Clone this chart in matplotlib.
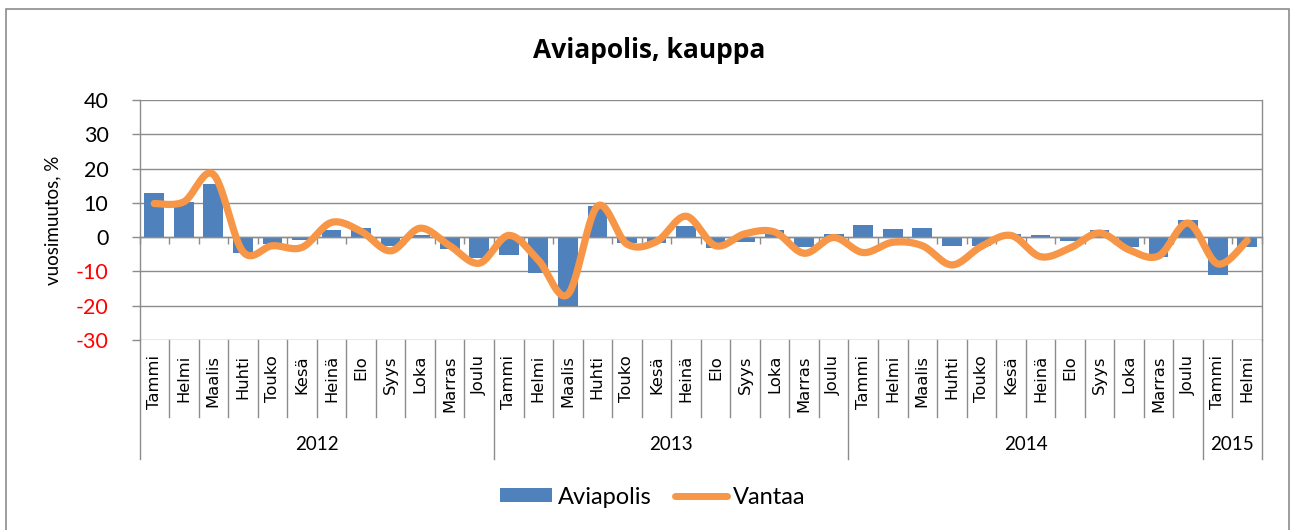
import numpy as np
import matplotlib
matplotlib.use("Agg")
import matplotlib.pyplot as plt
from matplotlib.patches import Patch, Rectangle
from matplotlib.lines import Line2D
from matplotlib import transforms

# ---------------- data ----------------
months = ["Tammi", "Helmi", "Maalis", "Huhti", "Touko", "Kesä",
          "Heinä", "Elo", "Syys", "Loka", "Marras", "Joulu"]
month_labels = months * 3 + ["Tammi", "Helmi"]
years = ["2012", "2013", "2014", "2015"]
year_counts = [12, 12, 12, 2]

aviapolis = [13.0, 10.2, 15.4, -4.7, -2.0, -0.8, 2.2, 2.8, -2.5, 0.7, -3.5, -6.2,
             -5.2, -10.4, -20.2, 9.2, -1.8, -1.6, 3.3, -3.2, -1.5, 2.0, -3.0, 0.9,
             3.6, 2.4, 2.6, -2.5, -2.5, 1.0, 0.7, -1.0, 2.0, -3.0, -5.7, 4.9, -10.9, -3.0]
vantaa = [9.8, 10.3, 18.3, -4.2, -2.5, -3.0, 4.3, 1.7, -4.0, 2.6, -2.5, -7.6,
          0.5, -6.7, -16.7, 9.0, -2.0, -1.3, 6.1, -2.5, 1.0, 1.5, -4.7, -0.1,
          -4.5, -1.5, -2.5, -8.1, -2.7, 0.5, -5.7, -3.2, 1.2, -3.7, -5.5, 4.1, -7.8, -1.0]
y_ticks = [-30, -20, -10, 0, 10, 20, 30, 40]

title = "Aviapolis, kauppa"
ylabel = "vuosimuutos, %"
series_names = ["Aviapolis", "Vantaa"]

# ---------------- style ----------------
W, H = 1292, 530
BAR_C = "#4F81BD"
LINE_C = "#F79646"
GRID_C = "#8C8C8C"
CAL = "Lato"

fig = plt.figure(figsize=(W / 100, H / 100), dpi=100)
ax_left, ax_right, ax_top, ax_bot = 139.5, 1262, 100, 340
ax = fig.add_axes([ax_left / W, 1 - ax_bot / H, (ax_right - ax_left) / W, (ax_bot - ax_top) / H])
axh = ax_bot - ax_top

n = len(aviapolis)
x = np.arange(n)
ax.bar(x, aviapolis, width=0.667, color=BAR_C, zorder=2)

# Excel-like smoothed line (Catmull-Rom / Bezier with 1/6 tangents)
px = x.astype(float)
py = np.asarray(vantaa, dtype=float)
P = np.column_stack([px, py])
Pe = np.vstack([P[0], P, P[-1]])
t = np.linspace(0, 1, 30)[:, None]
pts = []
for i in range(n - 1):
    p0, p1, p2, p3 = Pe[i], Pe[i + 1], Pe[i + 2], Pe[i + 3]
    c1 = p1 + (p2 - p0) / 6.0
    c2 = p2 - (p3 - p1) / 6.0
    seg = ((1 - t) ** 3) * p1 + 3 * ((1 - t) ** 2) * t * c1 + 3 * (1 - t) * t ** 2 * c2 + t ** 3 * p2
    pts.append(seg if i == 0 else seg[1:])
pts = np.vstack(pts)
ax.plot(pts[:, 0], pts[:, 1], color=LINE_C, lw=5.2, solid_capstyle="round",
        solid_joinstyle="round", zorder=3)

ax.set_xlim(-0.5, n - 0.5)
ax.set_ylim(min(y_ticks), max(y_ticks))
ax.set_yticks(y_ticks)
ax.set_yticklabels([str(v) for v in y_ticks], fontfamily=CAL, fontsize=15.5)
for lab, v in zip(ax.get_yticklabels(), y_ticks):
    lab.set_color("#FF0000" if v < 0 else "black")
ax.tick_params(axis="y", length=5.8, width=1.0, color=GRID_C, pad=16.5)

ax.grid(axis="y", color=GRID_C, lw=1.0, zorder=0)
ax.set_axisbelow(True)
for s in ["left", "right", "bottom"]:
    ax.spines[s].set_color(GRID_C)
    ax.spines[s].set_linewidth(1.0)
ax.spines["top"].set_visible(False)
ax.spines["bottom"].set_position(("data", 0))
ax.set_xticks(np.arange(-0.5, n, 1.0))
ax.set_xticklabels([])
ax.tick_params(axis="x", length=5, width=1.0, color=GRID_C, direction="out")

# multi-level category axis below plot
trans = transforms.blended_transform_factory(ax.transData, ax.transAxes)
year_bounds = np.concatenate([[0], np.cumsum(year_counts)]) - 0.5
for b in np.arange(-0.5, n, 1.0):
    is_year = np.any(np.isclose(year_bounds, b))
    y_end = -(459 - ax_bot) / axh if is_year else -(417 - ax_bot) / axh
    ax.add_line(Line2D([b, b], [0, y_end], transform=trans, color=GRID_C,
                       lw=1.0, clip_on=False))
for i, lab in enumerate(month_labels):
    ax.text(x[i], -(355 - ax_bot) / axh, lab, rotation=90, ha="center", va="top",
            transform=trans, fontsize=11.8, family="DejaVu Sans", color="black")
for k, yr in enumerate(years):
    c = (year_bounds[k] + year_bounds[k + 1]) / 2
    ax.text(c, -(445 - ax_bot) / axh, yr, ha="center", va="center", transform=trans,
            fontsize=13.5, family=CAL, color="black")

fig.text(53 / W, 1 - 220 / H, ylabel, rotation=90, ha="center", va="center",
         family=CAL, fontsize=13.5)
fig.text(649 / W, 1 - 50 / H, title, ha="center", va="center", weight="bold",
         family="Open Sans", fontsize=19)

handles = [Patch(facecolor=BAR_C, edgecolor="none"),
           Line2D([], [], color=LINE_C, lw=5, solid_capstyle="round")]
fig.legend(handles, series_names, loc="center", bbox_to_anchor=(653 / W, 1 - 497 / H),
           ncol=2, frameon=False, prop=dict(family=CAL, size=17),
           handlelength=2.2, handleheight=0.5, handletextpad=0.25, columnspacing=1.0)

fig.add_artist(Rectangle((6 / W, -0.01), (1289 - 6) / W, 1 - 8.5 / H + 0.01,
                         transform=fig.transFigure, fill=False, edgecolor=GRID_C, lw=1.2))

fig.savefig("out.png", dpi=100)
